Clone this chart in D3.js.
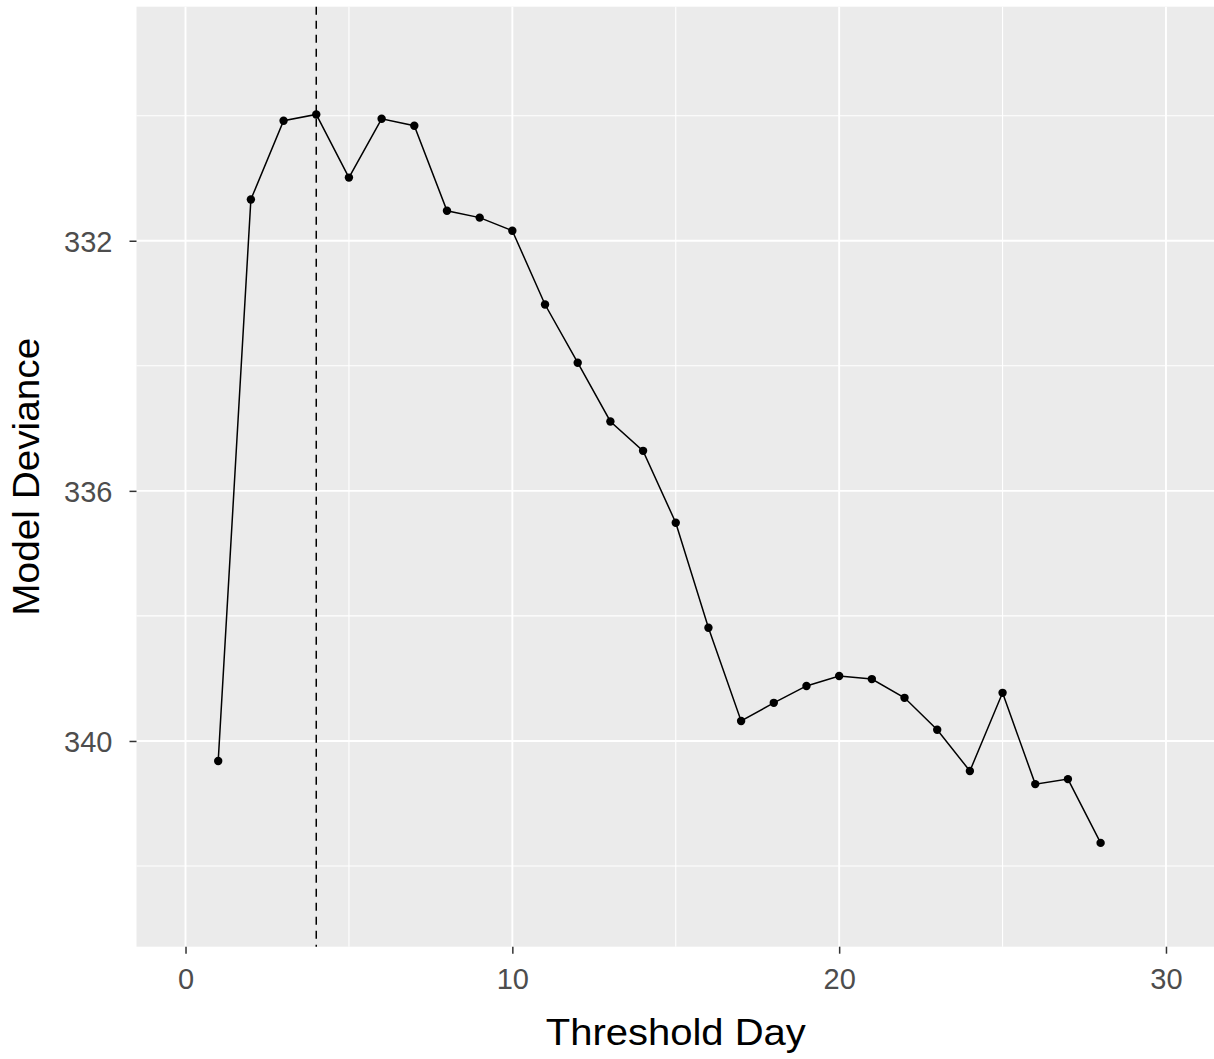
<!DOCTYPE html>
<html>
<head>
<meta charset="utf-8">
<script src="https://cdn.jsdelivr.net/npm/d3@7"></script>
<style>
  html, body { margin: 0; padding: 0; background: #fff; }
  svg { display: block; font-family: "Liberation Sans", Arial, sans-serif; }
</style>
</head>
<body>
<svg id="chart" width="1214" height="1059"></svg>
<script>
// Threshold day candidates and the deviance of the model fitted at each
const thresholdDays = [1, 2, 3, 4, 5, 6, 7, 8, 9, 10, 11, 12, 13, 14,
                       15, 16, 17, 18, 19, 20, 21, 22, 23, 24, 25, 26, 27, 28];
const modelDeviance = [340.32, 331.34, 330.08, 329.98, 330.99, 330.05, 330.16,
                       331.52, 331.63, 331.84, 333.02, 333.95, 334.89, 335.36,
                       336.51, 338.19, 339.68, 339.39, 339.12, 338.96, 339.01,
                       339.31, 339.82, 340.48, 339.23, 340.69, 340.61, 341.63];
// Selected threshold (lowest deviance)
const selectedDay = [4];

const xTicks = [0, 10, 20, 30];
const xMinor = [5, 15, 25];
const yTicks = [332, 336, 340];
const yMinor = [330, 334, 338, 342];

const points = thresholdDays.map((d, i) => ({ day: d, dev: modelDeviance[i] }));

const panel = { left: 136.5, right: 1215, top: 6.7, bottom: 946.7 };

const x = d3.scaleLinear().domain([-1.5, 31.5]).range([panel.left, panel.right]);
// deviance axis runs downward: smaller deviance sits higher
const y = d3.scaleLinear().domain([328.257, 343.29]).range([panel.top, panel.bottom]);

const svg = d3.select("#chart");

// panel background
svg.append("rect")
  .attr("x", panel.left).attr("y", panel.top)
  .attr("width", panel.right - panel.left)
  .attr("height", panel.bottom - panel.top)
  .attr("fill", "#EBEBEB");

const grid = svg.append("g").attr("stroke", "#FFFFFF");

grid.selectAll("line.ymin").data(yMinor).join("line")
  .attr("x1", panel.left).attr("x2", panel.right)
  .attr("y1", d => y(d)).attr("y2", d => y(d))
  .attr("stroke-width", 1.1);
grid.selectAll("line.xmin").data(xMinor).join("line")
  .attr("y1", panel.top).attr("y2", panel.bottom)
  .attr("x1", d => x(d)).attr("x2", d => x(d))
  .attr("stroke-width", 1.1);
grid.selectAll("line.ymaj").data(yTicks).join("line")
  .attr("x1", panel.left).attr("x2", panel.right)
  .attr("y1", d => y(d)).attr("y2", d => y(d))
  .attr("stroke-width", 1.9);
grid.selectAll("line.xmaj").data(xTicks).join("line")
  .attr("y1", panel.top).attr("y2", panel.bottom)
  .attr("x1", d => x(d)).attr("x2", d => x(d))
  .attr("stroke-width", 1.9);

// axes
const xAxis = d3.axisBottom(x).tickValues(xTicks).tickSize(7).tickPadding(6).tickFormat(d3.format("d"));
const gx = svg.append("g").attr("transform", `translate(0,${panel.bottom})`).call(xAxis);
gx.select(".domain").remove();
gx.selectAll(".tick line").attr("stroke", "#333333").attr("stroke-width", 1.5);
gx.selectAll(".tick text")
  .attr("fill", "#4D4D4D").attr("font-size", 29)
  .attr("font-family", "'Liberation Sans', Arial, sans-serif")
  .attr("dy", "0.71em").attr("y", 22);

const yAxis = d3.axisLeft(y).tickValues(yTicks).tickSize(7).tickPadding(6).tickFormat(d3.format("d"));
const gy = svg.append("g").attr("transform", `translate(${panel.left},0)`).call(yAxis);
gy.select(".domain").remove();
gy.selectAll(".tick line").attr("stroke", "#333333").attr("stroke-width", 1.5);
gy.selectAll(".tick text")
  .attr("fill", "#4D4D4D").attr("font-size", 29)
  .attr("font-family", "'Liberation Sans', Arial, sans-serif")
  .attr("x", -24).attr("dy", "0.36em");

// axis titles
svg.append("text")
  .attr("x", (panel.left + panel.right) / 2).attr("y", 1045)
  .attr("text-anchor", "middle").attr("font-size", 37).attr("fill", "#000")
  .attr("textLength", 260).attr("lengthAdjust", "spacingAndGlyphs")
  .text("Threshold Day");
svg.append("text")
  .attr("transform", `translate(39,${(panel.top + panel.bottom) / 2}) rotate(-90)`)
  .attr("text-anchor", "middle").attr("font-size", 37).attr("fill", "#000")
  .attr("textLength", 278).attr("lengthAdjust", "spacingAndGlyphs")
  .text("Model Deviance");

// selected threshold marker
svg.selectAll("line.sel").data(selectedDay).join("line")
  .attr("x1", d => x(d)).attr("x2", d => x(d))
  .attr("y1", panel.top).attr("y2", panel.bottom)
  .attr("stroke", "#000").attr("stroke-width", 1.5)
  .attr("stroke-dasharray", "8,6");

// deviance curve
const line = d3.line().x(d => x(d.day)).y(d => y(d.dev));
svg.append("path").datum(points)
  .attr("d", line).attr("fill", "none")
  .attr("stroke", "#000").attr("stroke-width", 1.5);

svg.selectAll("circle.pt").data(points).join("circle")
  .attr("cx", d => x(d.day)).attr("cy", d => y(d.dev))
  .attr("r", 4.2).attr("fill", "#000");
</script>
</body>
</html>
